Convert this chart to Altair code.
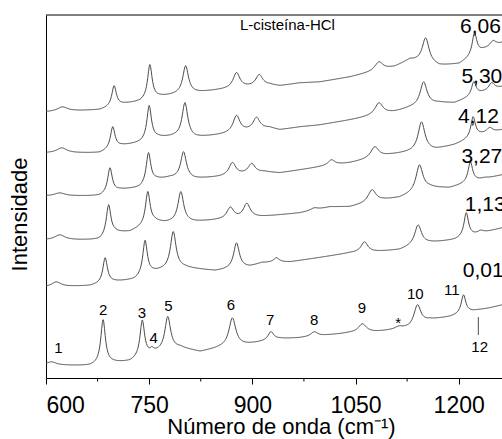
import altair as alt
import numpy as np
import pandas as pd

FONT = "Liberation Sans"

# ---- spectra (x in cm-1, intensity in arbitrary units) ----
# baseline anchors, peak centres, peak tops, peak half widths
s1_bx = [600, 664, 696, 722, 760, 795, 824, 853, 889, 940, 969, 1042, 1078, 1107, 1129, 1158, 1187, 1216, 1245, 1263]
s1_by = [13, 12, 15, 16, 25, 30, 26, 30, 33, 39, 40, 45, 46, 48, 50, 58, 61, 66, 70, 73]
s1_px = [608, 683, 740, 754, 777, 871, 927, 990, 1060, 1113, 1140, 1207, 1229]
s1_pt = [16, 58, 57, 27, 61, 60, 46, 46, 54, 51, 73, 83, 68]
s1_pw = [8, 4, 4, 3, 5, 6, 5, 6, 7, 7, 6, 4, 4]

s2_bx = [600, 664, 700, 729, 754, 766, 802, 846, 896, 914, 955, 1042, 1075, 1114, 1129, 1158, 1194, 1223, 1263]
s2_by = [91, 92, 96, 98, 105, 107, 110, 107, 111, 115, 116, 125, 126, 128, 131, 135, 138, 143, 150]
s2_px = [615, 686, 744, 785, 877, 935, 1063, 1141, 1211, 1232]
s2_pt = [96, 120, 137, 146, 135, 120, 136, 153, 165, 147]
s2_pw = [8, 4, 4, 5, 5, 5, 6, 6, 4, 5]

s3_bx = [600, 678, 700, 722, 758, 773, 816, 853, 911, 969, 1013, 1042, 1092, 1114, 1158, 1187, 1230, 1263]
s3_by = [138, 138, 145, 146, 156, 155, 156, 158, 161, 165, 171, 171, 178, 180, 190, 190, 198, 203]
s3_px = [620, 691, 748, 796, 868, 892, 990, 1074, 1143, 1217, 1238]
s3_pt = [143, 173, 186, 186, 170, 174, 170, 188, 213, 216, 200]
s3_pw = [9, 4, 4, 5, 6, 6, 6, 7, 6, 4, 5]

s4_bx = [600, 678, 708, 737, 761, 780, 816, 853, 918, 940, 969, 998, 1042, 1100, 1122, 1165, 1194, 1231, 1263]
s4_by = [182, 182, 188, 190, 198, 200, 199, 201, 206, 205, 208, 211, 215, 223, 225, 228, 233, 243, 248]
s4_px = [620, 693, 749, 800, 871, 899, 1015, 1078, 1146, 1221, 1245]
s4_pt = [185, 210, 225, 226, 215, 214, 218, 231, 256, 261, 250]
s4_pw = [9, 4, 4, 5, 6, 6, 6, 7, 6, 4, 5]

s5_bx = [600, 678, 710, 737, 763, 787, 816, 853, 925, 940, 969, 998, 1042, 1107, 1129, 1172, 1194, 1233, 1263]
s5_by = [225, 225, 232, 235, 240, 241, 240, 243, 250, 248, 251, 253, 258, 266, 270, 275, 275, 285, 291]
s5_px = [623, 697, 750, 802, 877, 906, 1084, 1149, 1222, 1248]
s5_pt = [230, 251, 272, 275, 262, 260, 275, 296, 296, 295]
s5_pw = [9, 4, 4, 5, 6, 6, 7, 6, 4, 5]

s6_bx = [600, 678, 715, 737, 766, 787, 816, 853, 925, 940, 969, 998, 1042, 1107, 1129, 1172, 1201, 1236, 1263]
s6_by = [266, 268, 274, 276, 281, 283, 285, 288, 293, 292, 295, 296, 301, 311, 318, 312, 314, 328, 335]
s6_px = [624, 699, 751, 803, 877, 910, 1084, 1152, 1223, 1250]
s6_pt = [271, 292, 313, 312, 305, 303, 316, 340, 345, 337]
s6_pw = [9, 4, 4, 5, 6, 6, 7, 6, 4, 5]

# pressure labels (GPa)
p_text = ["0,01", "1,13", "3,27", "4,12", "5,30", "6,06"]
p_w = [1206, 1209, 1204, 1199, 1204, 1202]
p_i = [107, 173, 221, 261, 301, 351]

# peak labels of the lowest spectrum
k_text = ["1", "2", "3", "4", "5", "6", "7", "8", "9", "*", "10", "11", "12"]
k_w = [618, 683, 739.5, 756.5, 778, 869, 926, 990, 1059.5, 1112, 1137, 1190, 1230.5]
k_i = [30, 68, 65, 40, 72, 73, 58, 58, 70, 55, 84, 88, 31]

# marker line of peak 12
m_w = [1228.6]
m_i = [61]
m_i2 = [43]

major_ticks = [600, 750, 900, 1050, 1200]
minor_ticks = [675, 825, 975, 1125]

title_text = ["L-cisteína-HCl"]
title_w = [951]
title_i = [353]


def spectrum(bx, by, px, pt, pw):
    x = np.arange(600.0, 1263.5, 1.0)
    base = np.interp(x, bx, by)
    y = base.copy()
    for c, t, w in zip(px, pt, pw):
        h = t - np.interp(c, bx, by)
        y = y + h / (1.0 + ((x - c) / w) ** 2)
    return x, y


frames = []
for name, arr in [
    ("0,01", (s1_bx, s1_by, s1_px, s1_pt, s1_pw)),
    ("1,13", (s2_bx, s2_by, s2_px, s2_pt, s2_pw)),
    ("3,27", (s3_bx, s3_by, s3_px, s3_pt, s3_pw)),
    ("4,12", (s4_bx, s4_by, s4_px, s4_pt, s4_pw)),
    ("5,30", (s5_bx, s5_by, s5_px, s5_pt, s5_pw)),
    ("6,06", (s6_bx, s6_by, s6_px, s6_pt, s6_pw)),
]:
    x, y = spectrum(*arr)
    frames.append(pd.DataFrame({"w": x, "i": y, "s": name}))
df = pd.concat(frames, ignore_index=True)

xs = alt.Scale(domain=[600, 1263], nice=False, zero=False)
ys = alt.Scale(domain=[0, 363], nice=False, zero=False)

x_enc = alt.X(
    "w:Q", scale=xs,
    axis=alt.Axis(
        values=major_ticks, format="d", title="Número de onda (cm⁻¹)",
        grid=False, domainColor="black", tickColor="black", tickSize=6,
        labelFont=FONT, labelFontSize=23, labelColor="black",
        labelBaseline="alphabetic", labelPadding=28,
        titleFont=FONT, titleFontSize=22, titleFontWeight="normal", titleColor="black",
        titleX=235, titleY=55, titleBaseline="alphabetic", titleAlign="center",
    ),
)
y_enc = alt.Y(
    "i:Q", scale=ys,
    axis=alt.Axis(
        title="Intensidade", labels=False, ticks=False, grid=False, domainColor="black",
        titleFont=FONT, titleFontSize=22, titleFontWeight="normal", titleColor="black",
        titleAngle=270, titleX=-27, titleY=199, titleAlign="center", titleBaseline="middle",
    ),
)

lines = alt.Chart(df).mark_line(color="#4d4d4d", strokeWidth=1).encode(
    x=x_enc, y=y_enc, detail="s:N"
)

top_border = alt.Chart(pd.DataFrame({"w": [600], "w2": [1263]})).mark_rule(
    color="black", strokeWidth=1
).encode(x="w:Q", x2="w2:Q", y=alt.value(0))

minor = alt.Chart(pd.DataFrame({"w": minor_ticks})).mark_rule(
    color="black", strokeWidth=1
).encode(x="w:Q", y=alt.value(363), y2=alt.value(366.5))

p_labels = alt.Chart(pd.DataFrame({"w": p_w, "i": p_i, "t": p_text})).mark_text(
    font=FONT, fontSize=21, align="left", baseline="middle", color="black"
).encode(x="w:Q", y="i:Q", text="t:N")

k_labels = alt.Chart(pd.DataFrame({"w": k_w, "i": k_i, "t": k_text})).mark_text(
    font=FONT, fontSize=15, align="center", baseline="middle", color="black"
).encode(x="w:Q", y="i:Q", text="t:N")

marker = alt.Chart(pd.DataFrame({"w": m_w, "i": m_i, "i2": m_i2})).mark_rule(
    color="#4d4d4d", strokeWidth=1
).encode(x="w:Q", y="i:Q", y2="i2:Q")

title = alt.Chart(pd.DataFrame({"w": title_w, "i": title_i, "t": title_text})).mark_text(
    font=FONT, fontSize=15, align="center", baseline="middle", color="black"
).encode(x="w:Q", y="i:Q", text="t:N")

chart = alt.layer(lines, top_border, minor, marker, k_labels, p_labels, title).properties(
    width=456, height=363,
    autosize=alt.AutoSizeParams(type="none"),
    padding={"left": 46, "top": 15, "right": 0, "bottom": 61},
    background="white",
).configure_view(stroke=None)

chart.save("out.html", embed_options={"renderer": "svg", "actions": False})
